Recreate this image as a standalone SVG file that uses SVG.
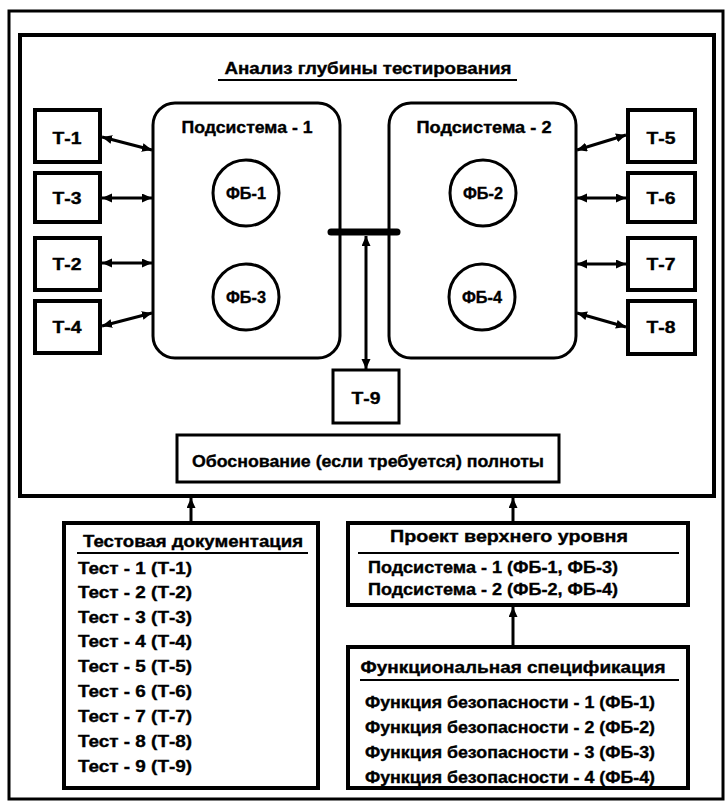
<svg xmlns="http://www.w3.org/2000/svg" width="728" height="803" viewBox="0 0 728 803">
  <style>
    text { font-family: "Liberation Sans", Arial, sans-serif; font-weight: bold; fill: #000; stroke: #000; stroke-width: 0.35; }
    .box { fill: #fff; stroke: #000; stroke-width: 4; }
    .thin { fill: #fff; stroke: #000; stroke-width: 3; }
    .frame { fill: none; stroke: #000; }
    .circ { fill: #fff; stroke: #000; stroke-width: 3; }
    .link { stroke: #000; stroke-width: 3; fill: none; marker-start: url(#ah); marker-end: url(#ah); }
    .up { stroke: #000; stroke-width: 3; fill: none; marker-end: url(#ah); }
    .rule { stroke: #000; stroke-width: 2; }
    .t { font-size: 16px; text-anchor: middle; }
    .l { font-size: 16px; }
  </style>
  <defs>
    <marker id="ah" markerUnits="userSpaceOnUse" markerWidth="12" markerHeight="10" refX="10" refY="4.5" orient="auto-start-reverse">
      <path d="M0,0 L10,4.5 L0,9 Z" fill="#000"/>
    </marker>
  </defs>

  <rect width="728" height="803" fill="#fff"/>

  <!-- outer and inner frames -->
  <rect class="frame" x="9" y="11" width="714" height="788" stroke-width="3"/>
  <rect class="frame" x="20" y="35" width="694" height="461" stroke-width="4"/>

  <!-- title -->
  <g id="title">
    <text class="t" x="368" y="74" textLength="287" lengthAdjust="spacingAndGlyphs">Анализ глубины тестирования</text>
    <line class="rule" x1="218" y1="80" x2="517" y2="80"/>
  </g>

  <!-- subsystems -->
  <g id="subsystem-1">
    <rect class="thin" x="153" y="103" width="187" height="255" rx="22"/>
    <text class="t" x="247" y="133" textLength="131" lengthAdjust="spacingAndGlyphs">Подсистема - 1</text>
  </g>
  <g id="subsystem-2">
    <rect class="thin" x="389" y="103" width="187" height="255" rx="22"/>
    <text class="t" x="484" y="133" textLength="135" lengthAdjust="spacingAndGlyphs">Подсистема - 2</text>
  </g>

  <g id="fb-1"><circle class="circ" cx="246" cy="193" r="33"/><text class="t" x="246" y="199" textLength="40" lengthAdjust="spacingAndGlyphs">ФБ-1</text></g>
  <g id="fb-3"><circle class="circ" cx="246" cy="297" r="33"/><text class="t" x="246" y="303" textLength="40" lengthAdjust="spacingAndGlyphs">ФБ-3</text></g>
  <g id="fb-2"><circle class="circ" cx="483" cy="193" r="33"/><text class="t" x="483" y="199" textLength="40" lengthAdjust="spacingAndGlyphs">ФБ-2</text></g>
  <g id="fb-4"><circle class="circ" cx="482" cy="297" r="33"/><text class="t" x="482" y="303" textLength="40" lengthAdjust="spacingAndGlyphs">ФБ-4</text></g>

  <!-- test boxes -->
  <g id="t-1"><rect class="box" x="35" y="110" width="65" height="52"/><text class="t" x="67" y="144" textLength="29" lengthAdjust="spacingAndGlyphs">Т-1</text></g>
  <g id="t-3"><rect class="box" x="35" y="173" width="65" height="49"/><text class="t" x="67" y="204" textLength="29" lengthAdjust="spacingAndGlyphs">Т-3</text></g>
  <g id="t-2"><rect class="box" x="35" y="238" width="65" height="52"/><text class="t" x="67" y="270" textLength="29" lengthAdjust="spacingAndGlyphs">Т-2</text></g>
  <g id="t-4"><rect class="box" x="35" y="301" width="65" height="52"/><text class="t" x="67" y="333" textLength="29" lengthAdjust="spacingAndGlyphs">Т-4</text></g>
  <g id="t-5"><rect class="box" x="628" y="110" width="67" height="52"/><text class="t" x="661" y="144" textLength="29" lengthAdjust="spacingAndGlyphs">Т-5</text></g>
  <g id="t-6"><rect class="box" x="628" y="173" width="67" height="49"/><text class="t" x="661" y="204" textLength="29" lengthAdjust="spacingAndGlyphs">Т-6</text></g>
  <g id="t-7"><rect class="box" x="628" y="238" width="67" height="52"/><text class="t" x="661" y="270" textLength="29" lengthAdjust="spacingAndGlyphs">Т-7</text></g>
  <g id="t-8"><rect class="box" x="628" y="301" width="67" height="53"/><text class="t" x="661" y="333" textLength="29" lengthAdjust="spacingAndGlyphs">Т-8</text></g>
  <g id="t-9"><rect class="thin" x="333" y="370" width="66" height="53"/><text class="t" x="366" y="404" textLength="29" lengthAdjust="spacingAndGlyphs">Т-9</text></g>

  <!-- justification -->
  <g id="justification">
    <rect class="thin" x="177" y="435" width="382" height="47"/>
    <text class="t" x="368" y="467" textLength="352" lengthAdjust="spacingAndGlyphs">Обоснование (если требуется) полноты</text>
  </g>

  <!-- test documentation -->
  <g id="test-docs">
    <rect class="box" x="64" y="523" width="254" height="265"/>
    <text class="t" x="193" y="547" textLength="220" lengthAdjust="spacingAndGlyphs">Тестовая документация</text>
    <line class="rule" x1="77" y1="553" x2="308" y2="553"/>
    <text class="l" x="78" y="574" textLength="114" lengthAdjust="spacingAndGlyphs">Тест - 1 (Т-1)</text>
    <text class="l" x="78" y="598" textLength="114" lengthAdjust="spacingAndGlyphs">Тест - 2 (Т-2)</text>
    <text class="l" x="78" y="623" textLength="114" lengthAdjust="spacingAndGlyphs">Тест - 3 (Т-3)</text>
    <text class="l" x="78" y="647" textLength="114" lengthAdjust="spacingAndGlyphs">Тест - 4 (Т-4)</text>
    <text class="l" x="78" y="672" textLength="114" lengthAdjust="spacingAndGlyphs">Тест - 5 (Т-5)</text>
    <text class="l" x="78" y="697" textLength="114" lengthAdjust="spacingAndGlyphs">Тест - 6 (Т-6)</text>
    <text class="l" x="78" y="722" textLength="114" lengthAdjust="spacingAndGlyphs">Тест - 7 (Т-7)</text>
    <text class="l" x="78" y="747" textLength="114" lengthAdjust="spacingAndGlyphs">Тест - 8 (Т-8)</text>
    <text class="l" x="78" y="772" textLength="114" lengthAdjust="spacingAndGlyphs">Тест - 9 (Т-9)</text>
  </g>

  <!-- high-level design -->
  <g id="high-level-design">
    <rect class="box" x="348" y="523" width="340" height="82"/>
    <text class="t" x="509" y="542" textLength="238" lengthAdjust="spacingAndGlyphs">Проект верхнего уровня</text>
    <line class="rule" x1="358" y1="553" x2="679" y2="553"/>
    <text class="l" x="368" y="573" textLength="250" lengthAdjust="spacingAndGlyphs">Подсистема - 1 (ФБ-1, ФБ-3)</text>
    <text class="l" x="368" y="595" textLength="250" lengthAdjust="spacingAndGlyphs">Подсистема - 2 (ФБ-2, ФБ-4)</text>
  </g>

  <!-- functional specification -->
  <g id="functional-spec">
    <rect class="box" x="348" y="647" width="340" height="141"/>
    <text class="t" x="513" y="673" textLength="305" lengthAdjust="spacingAndGlyphs">Функциональная спецификация</text>
    <line class="rule" x1="360" y1="680" x2="679" y2="680"/>
    <text class="l" x="365" y="708" textLength="290" lengthAdjust="spacingAndGlyphs">Функция безопасности - 1 (ФБ-1)</text>
    <text class="l" x="365" y="733" textLength="290" lengthAdjust="spacingAndGlyphs">Функция безопасности - 2 (ФБ-2)</text>
    <text class="l" x="365" y="758" textLength="290" lengthAdjust="spacingAndGlyphs">Функция безопасности - 3 (ФБ-3)</text>
    <text class="l" x="365" y="783" textLength="290" lengthAdjust="spacingAndGlyphs">Функция безопасности - 4 (ФБ-4)</text>
  </g>

  <!-- connectors, drawn over the node outlines -->
  <g id="connectors">
    <line class="link" x1="102" y1="137" x2="152" y2="150"/>
    <line class="link" x1="102" y1="198" x2="152" y2="198"/>
    <line class="link" x1="102" y1="263" x2="152" y2="263"/>
    <line class="link" x1="102" y1="326" x2="152" y2="313"/>
    <line class="link" x1="577" y1="150" x2="626" y2="135"/>
    <line class="link" x1="577" y1="198" x2="626" y2="198"/>
    <line class="link" x1="577" y1="264" x2="626" y2="264"/>
    <line class="link" x1="577" y1="313" x2="626" y2="327"/>
    <line x1="331" y1="232" x2="397" y2="232" stroke="#000" stroke-width="7" stroke-linecap="round"/>
    <line class="link" x1="366" y1="236" x2="366" y2="369"/>
    <line class="up" x1="191" y1="522" x2="191" y2="498"/>
    <line class="up" x1="513" y1="522" x2="513" y2="498"/>
    <line class="up" x1="513" y1="646" x2="513" y2="607"/>
  </g>
</svg>
